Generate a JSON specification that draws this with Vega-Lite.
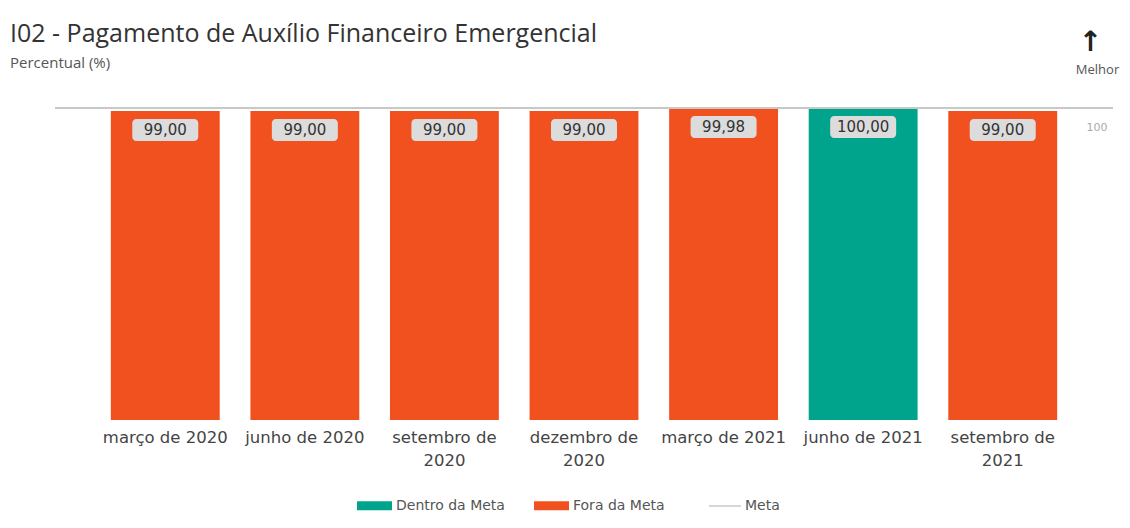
{
  "$schema": "https://vega.github.io/schema/vega-lite/v6.json",
  "autosize": {"type": "none"},
  "width": 1058,
  "height": 312,
  "padding": {"left": 55, "top": 108, "right": 17, "bottom": 108},
  "background": "white",
  "config": {
    "view": {"stroke": null},
    "locale": {"number": {"decimal": ",", "thousands": ".", "grouping": [3], "currency": ["R$ ", ""]}},
    "font": "DejaVu Sans"
  },
  "title": {
    "text": "I02 - Pagamento de Auxílio Financeiro Emergencial",
    "subtitle": "Percentual (%)",
    "anchor": "start",
    "frame": "group",
    "dx": -45,
    "font": "Open Sans",
    "fontSize": 25,
    "fontWeight": "normal",
    "color": "#333333",
    "subtitleFont": "Open Sans",
    "subtitleFontSize": 15,
    "subtitleColor": "#555555",
    "subtitlePadding": 9,
    "offset": -43
  },
  "datasets": {
    "bars": [
      {"periodo": "março de 2020", "valor": 99.00, "status": "Fora da Meta"},
      {"periodo": "junho de 2020", "valor": 99.00, "status": "Fora da Meta"},
      {"periodo": "setembro de 2020", "valor": 99.00, "status": "Fora da Meta"},
      {"periodo": "dezembro de 2020", "valor": 99.00, "status": "Fora da Meta"},
      {"periodo": "março de 2021", "valor": 99.98, "status": "Fora da Meta"},
      {"periodo": "junho de 2021", "valor": 100.00, "status": "Dentro da Meta"},
      {"periodo": "setembro de 2021", "valor": 99.00, "status": "Fora da Meta"}
    ],
    "meta": [{"meta": 100, "serie": "Meta"}]
  },
  "resolve": {"axis": {"y": "independent"}},
  "layer": [
    {
      "data": {"name": "bars"},
      "mark": {"type": "bar"},
      "encoding": {
        "x": {
          "field": "periodo", "type": "nominal", "sort": null,
          "scale": {"paddingInner": 0.22, "paddingOuter": 0.4},
          "axis": {
            "title": null, "domain": false, "ticks": false, "grid": false,
            "labelAngle": 0, "labelFontSize": 16.5, "labelColor": "#444444",
            "labelPadding": 9, "labelLineHeight": 23, "labelBaseline": "top",
            "labelExpr": "length(datum.label) > 15 ? [slice(datum.label, 0, 11), slice(datum.label, 12)] : datum.label"
          }
        },
        "y": {
          "field": "valor", "type": "quantitative",
          "scale": {"domain": [0, 100], "nice": false},
          "axis": {
            "orient": "right", "values": [100], "grid": false, "domain": false, "ticks": false,
            "labelAlign": "right", "labelPadding": -6, "labelOffset": 19,
            "labelFontSize": 11, "labelColor": "#aaaaaa",
            "title": "Melhor", "titleAngle": 0, "titleAlign": "center", "titleBaseline": "alphabetic",
            "titleX": -16, "titleY": -35, "titleFontSize": 13, "titleFontWeight": "normal",
            "titleColor": "#555555", "titleFont": "Open Sans"
          }
        },
        "color": {
          "field": "status", "type": "nominal",
          "scale": {"domain": ["Dentro da Meta", "Fora da Meta"], "range": ["#00A48C", "#F1511E"]},
          "legend": {
            "title": null, "orient": "none", "direction": "horizontal",
            "legendX": 302, "legendY": 380, "padding": 0,
            "symbolType": "M-1,-0.26H1V0.26H-1Z", "symbolSize": 1225, "symbolStrokeWidth": 0,
            "labelOffset": 4, "labelFontSize": 14, "labelColor": "#555555", "columnPadding": 29
          }
        }
      }
    },
    {
      "data": {"name": "bars"},
      "mark": {"type": "bar", "width": 66, "yOffset": 8, "y2Offset": 30, "color": "#dcdcdc", "cornerRadius": 4},
      "encoding": {
        "x": {"field": "periodo", "type": "nominal", "sort": null},
        "y": {"field": "valor", "type": "quantitative", "axis": null},
        "y2": {"field": "valor"}
      }
    },
    {
      "data": {"name": "bars"},
      "mark": {"type": "text", "dy": 19, "baseline": "middle", "fontSize": 15, "color": "#333333"},
      "encoding": {
        "x": {"field": "periodo", "type": "nominal", "sort": null},
        "y": {"field": "valor", "type": "quantitative", "axis": null},
        "text": {"field": "valor", "type": "quantitative", "format": ".2f"}
      }
    },
    {
      "data": {"name": "meta"},
      "mark": {"type": "rule", "strokeWidth": 2},
      "encoding": {
        "y": {
          "field": "meta", "type": "quantitative",
          "axis": {
            "orient": "left", "labels": false, "domain": false, "ticks": false, "grid": false,
            "title": "↑", "titleAngle": 0, "titleAlign": "center", "titleBaseline": "alphabetic",
            "titleX": 1035, "titleY": -58, "titleFontSize": 28, "titleFontWeight": "bold", "titleColor": "#222222"
          }
        },
        "stroke": {
          "field": "serie", "type": "nominal",
          "scale": {"domain": ["Meta"], "range": ["#c8c8c8"]},
          "legend": {
            "title": null, "orient": "none", "legendX": 653, "legendY": 381, "padding": 0,
            "symbolType": "stroke", "symbolSize": 1024, "symbolStrokeWidth": 1.5,
            "labelOffset": 3, "labelFontSize": 14, "labelColor": "#555555"
          }
        }
      }
    }
  ]
}
